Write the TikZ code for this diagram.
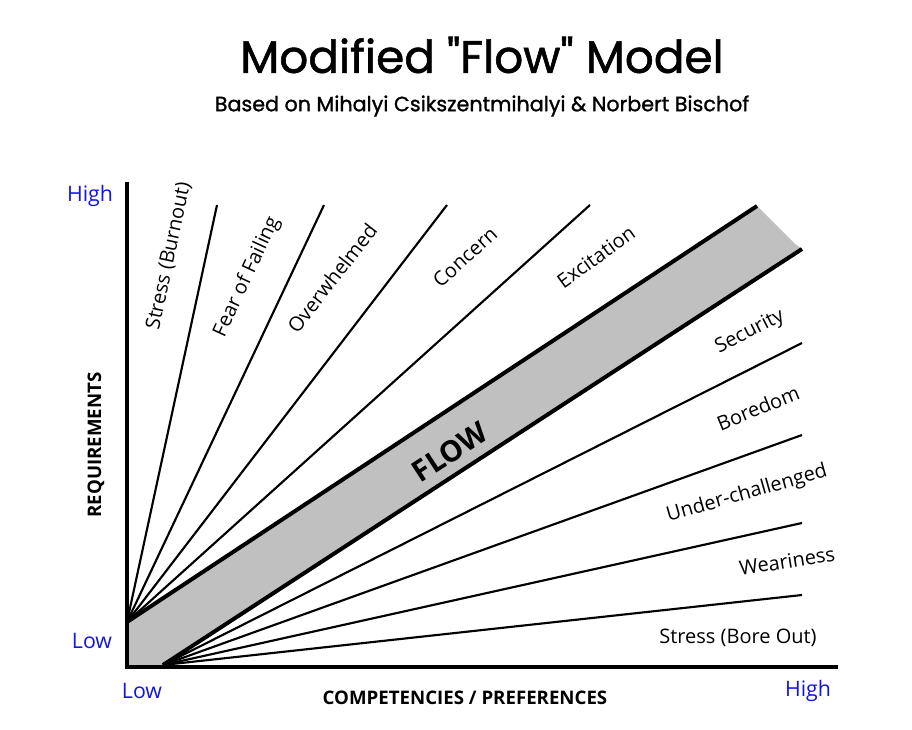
\documentclass[tikz,border=0pt]{standalone}
\usepackage{fontspec}
\setmainfont{Open Sans}
\newfontfamily\titlefont[FakeBold=1.2]{Poppins}
\definecolor{axblue}{RGB}{20,20,230}
\definecolor{flowgray}{RGB}{192,192,192}
\begin{document}
\begin{tikzpicture}[x=0.75pt,y=-0.75pt,
  thin line/.style={line width=1.6pt},
  thick line/.style={line width=3pt},
  lab/.style={font=\fontsize{15}{17}\selectfont, inner sep=1pt},
  axlab/.style={font=\fontsize{16}{18}\selectfont, text=axblue},
  axtitle/.style={font=\bfseries\fontsize{14}{16}\selectfont}]
\fill[white] (0,0) rectangle (912,730);
\useasboundingbox (0,0) rectangle (912,730);
\coordinate (U) at (127,622);
\coordinate (L) at (163,665);
\coordinate (O) at (127,667);
\coordinate (Ytop) at (127,182);
\coordinate (Xend) at (838,667);
\coordinate (F1) at (757,206);
\coordinate (F2) at (802,249);
\coordinate (F3) at (795,244);
\fill[flowgray] (U) -- (F1) -- (F3) -- (F2) -- (L) -- (O) -- cycle;
\foreach \x in {217,324,447,590} \draw[thin line] (U) -- (\x,205);
\foreach \y in {343,435,523,595} \draw[thin line] (L) -- (802,\y);
\draw[thick line] (U) -- (F1);
\draw[thick line] (L) -- (F2);
\draw[line width=3.5pt] (Ytop) -- (O) -- (Xend);
\node[font=\titlefont\fontsize{34}{40}\selectfont] (title) at (482,55) {Modified "Flow" Model};
\node[font=\titlefont\fontsize{15.5}{18}\selectfont] (sub) at (482,106) {Based on Mihalyi Csikszentmihalyi \& Norbert Bischof};
\node[lab,rotate=78] (a1) at (169,256) {Stress (Burnout)};
\node[lab,rotate=65] (a2) at (247,277) {Fear of Failing};
\node[lab,rotate=52] (a3) at (332,278) {Overwhelmed};
\node[lab,rotate=42] (a4) at (465,257) {Concern};
\node[lab,rotate=36] (a5) at (596,257) {Excitation};
\node[lab,rotate=27] (b1) at (750,332) {Security};
\node[lab,rotate=22] (b2) at (758,408) {Boredom};
\node[lab,rotate=16] (b3) at (747,494) {Under-challenged};
\node[lab,rotate=9] (b4) at (787,561) {Weariness};
\node[lab] (b5) at (738,638) {Stress (Bore Out)};
\node[font=\bfseries\fontsize{22}{26}\selectfont,rotate=33] (flow) at (450,452) {FLOW};
\node[axlab] (hy) at (90,196) {High};
\node[axlab] (ly) at (92,641) {Low};
\node[axlab] (lx) at (142,691) {Low};
\node[axlab] (hx) at (808,691) {High};
\node[axtitle,rotate=90] (req) at (96,445) {REQUIREMENTS};
\node[axtitle] (comp) at (465,698) {COMPETENCIES / PREFERENCES};
\end{tikzpicture}
\end{document}
